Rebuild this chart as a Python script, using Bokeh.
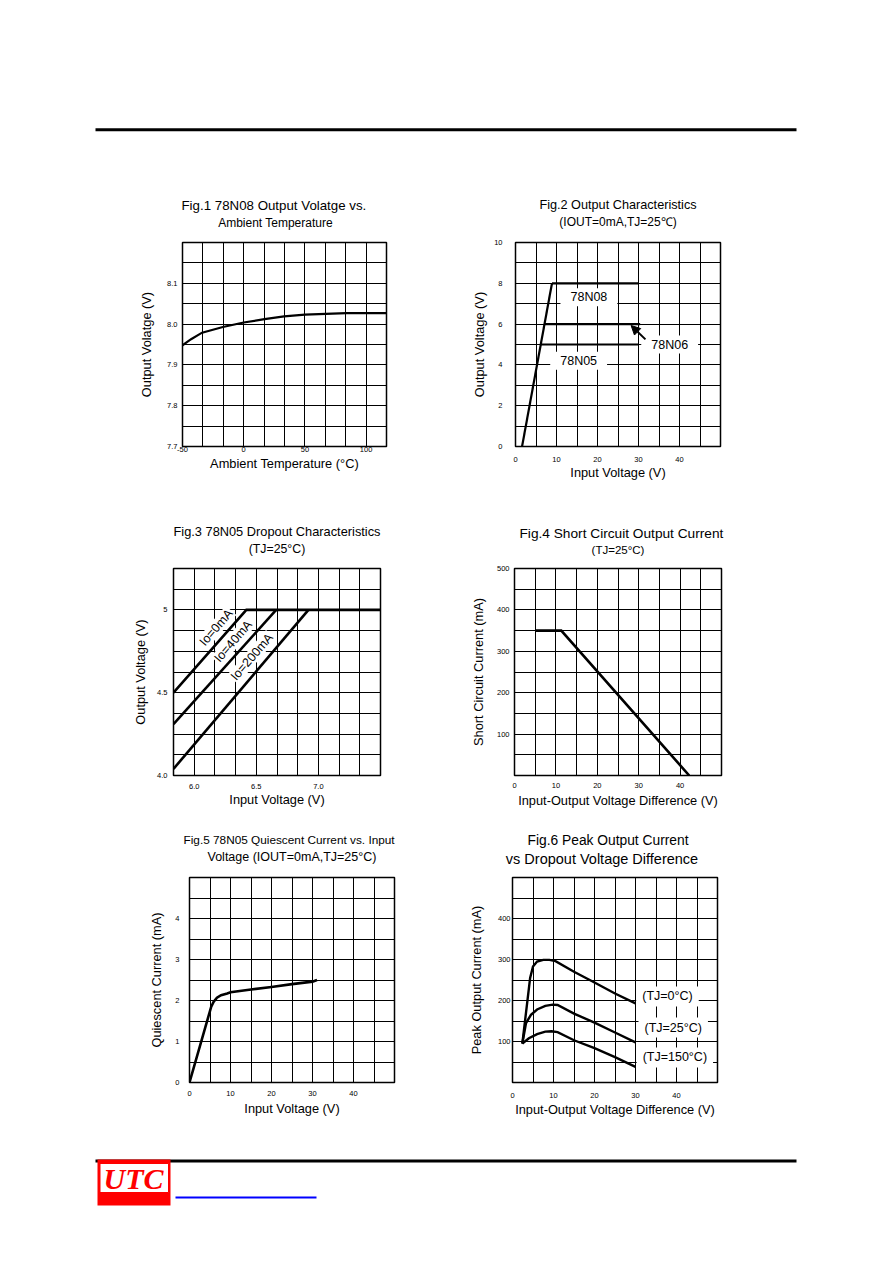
from bokeh.plotting import figure
from bokeh.layouts import column, row
from bokeh.models import Range1d, FixedTicker, Label, Arrow, NormalHead, Title, LinearAxis
from bokeh.embed import file_html
from bokeh.resources import INLINE
from bokeh.core.properties import value

FONT = "Liberation Sans"

# ---------------- data ----------------
# Fig.1 78N08 output voltage vs ambient temperature
fig1_temp = [-50, -43, -34, -17, 0, 17, 33, 50, 67, 84, 117]
fig1_volt = [7.948, 7.963, 7.979, 7.993, 8.004, 8.012, 8.019, 8.023, 8.025, 8.027, 8.027]
fig1_xticks = [-50, 0, 50, 100]
fig1_xlabels = ["-50", "0", "50", "100"]
fig1_yticks = [7.7, 7.8, 7.9, 8.0, 8.1]
fig1_ylabels = ["7.7", "7.8", "7.9", "8.0", "8.1"]

# Fig.2 output characteristics
fig2_ramp_vin = [1.6, 8.9]
fig2_ramp_vout = [0, 8]
fig2_names = ["78N08", "78N06", "78N05"]
fig2_level = [8, 6, 5]
fig2_start = [8.9, 7.1, 6.2]
fig2_end = [30, 30.4, 30]
fig2_label_x = [17.9, 37.6, 15.4]
fig2_label_y = [7.32, 5.0, 4.2]
fig2_arrow_from = (31.7, 5.25)
fig2_arrow_to = (28.2, 5.93)
fig2_xticks = [0, 10, 20, 30, 40]
fig2_xlabels = ["0", "10", "20", "30", "40"]
fig2_yticks = [0, 2, 4, 6, 8, 10]
fig2_ylabels = ["0", "2", "4", "6", "8", "10"]

# Fig.3 78N05 dropout characteristics
fig3_io0_vin = [5.8333, 6.42, 7.5]
fig3_io0_vout = [4.5, 5.0, 5.0]
fig3_io40_vin = [5.8333, 6.66]
fig3_io40_vout = [4.31, 5.0]
fig3_io200_vin = [5.8333, 6.92]
fig3_io200_vout = [4.04, 5.0]
fig3_names = ["Io=0mA", "Io=40mA", "Io=200mA"]
fig3_label_x = [6.177, 6.314, 6.465]
fig3_label_y = [4.893, 4.81, 4.716]
fig3_xticks = [6.0, 6.5, 7.0]
fig3_xlabels = ["6.0", "6.5", "7.0"]
fig3_yticks = [4.0, 4.5, 5.0]
fig3_ylabels = ["4.0", "4.5", "5"]

# Fig.4 short circuit output current
fig4_vdiff = [5, 11.3, 42.2]
fig4_isc = [350, 350, 0]
fig4_xticks = [0, 10, 20, 30, 40]
fig4_xlabels = ["0", "10", "20", "30", "40"]
fig4_yticks = [100, 200, 300, 400, 500]
fig4_ylabels = ["100", "200", "300", "400", "500"]

# Fig.5 78N05 quiescent current vs input voltage
fig5_vin = [0, 5.3, 5.9, 6.7, 7.7, 9.2, 10, 15, 20, 25, 30, 31.1]
fig5_iq = [0, 1.85, 1.97, 2.07, 2.13, 2.17, 2.2, 2.27, 2.33, 2.4, 2.46, 2.5]
fig5_xticks = [0, 10, 20, 30, 40]
fig5_xlabels = ["0", "10", "20", "30", "40"]
fig5_yticks = [0, 1, 2, 3, 4]
fig5_ylabels = ["0", "1", "2", "3", "4"]

# Fig.6 peak output current vs dropout voltage difference
fig6_tj0_v = [2.4, 4.3, 5.0, 6.0, 7.5, 9.0, 10.5, 15, 20, 25, 30]
fig6_tj0_i = [95, 255, 283, 295, 299, 299, 296, 270, 244, 217, 193]
fig6_tj25_v = [2.4, 3.3, 4.5, 6.0, 8.0, 9.8, 11, 15, 20, 25, 30]
fig6_tj25_i = [95, 145, 165, 178, 187, 190, 189, 168, 146, 122, 98]
fig6_tj150_v = [2.4, 4.0, 6.0, 8.0, 9.5, 11, 15, 20, 25, 30]
fig6_tj150_i = [95, 108, 118, 124, 125, 123, 103, 84, 62, 38]
fig6_names = ["(TJ=0°C)", "(TJ=25°C)", "(TJ=150°C)"]
fig6_label_x = [37.8, 39.2, 39.6]
fig6_label_y = [209.8, 134, 61]
fig6_xticks = [0, 10, 20, 30, 40]
fig6_xlabels = ["0", "10", "20", "30", "40"]
fig6_yticks = [100, 200, 300, 400]
fig6_ylabels = ["100", "200", "300", "400"]

AXIS_SIZE = "12.8px"
TICK_SIZE = "7.5px"

BARE = dict(axis_line_color=None, major_tick_line_color=None, minor_tick_line_color=None,
            major_tick_out=0, major_tick_in=0, minor_tick_out=0, minor_tick_in=0)


def make_chart(x_range, y_range, canvas, frame, title1, title2,
               x_label, y_label, x_ticks, x_tick_labels, y_ticks, y_tick_labels,
               x_std, x_lstd, y_std, y_lstd):
    cw, ch = canvas
    left, top, fw, fh = frame
    p = figure(width=cw, height=ch,
               x_range=Range1d(*x_range), y_range=Range1d(*y_range),
               output_backend="svg", toolbar_location=None,
               min_border_left=left, min_border_right=cw - left - fw,
               min_border_top=top, min_border_bottom=ch - top - fh,
               background_fill_color="white", border_fill_color="white",
               outline_line_color="black", outline_line_width=1.5,
               outline_line_alpha=1.0)
    x0, x1 = x_range
    y0, y1 = y_range
    p.xgrid[0].ticker = FixedTicker(ticks=[x0 + (x1 - x0) * k / 10 for k in range(1, 10)])
    p.ygrid[0].ticker = FixedTicker(ticks=[y0 + (y1 - y0) * k / 10 for k in range(1, 10)])
    for g in (p.xgrid[0], p.ygrid[0]):
        g.grid_line_color = "black"
        g.grid_line_width = 1
        g.grid_line_alpha = 1.0
    for ax, ticks, labels, std, lstd, lab in (
            (p.xaxis[0], x_ticks, x_tick_labels, x_std, x_lstd, x_label),
            (p.yaxis[0], y_ticks, y_tick_labels, y_std, y_lstd, y_label)):
        ax.ticker = FixedTicker(ticks=ticks)
        ax.major_label_overrides = {t: s for t, s in zip(ticks, labels)}
        for k, v in BARE.items():
            setattr(ax, k, v)
        ax.major_label_standoff = std
        ax.major_label_text_font = FONT
        ax.major_label_text_font_size = TICK_SIZE
        ax.major_label_text_color = "black"
        ax.axis_label = lab
        ax.axis_label_text_font = FONT
        ax.axis_label_text_font_size = AXIS_SIZE
        ax.axis_label_text_font_style = "normal"
        ax.axis_label_text_color = "black"
        ax.axis_label_standoff = lstd
    # second title line (closest to the frame)
    if title2[0] == "axis":
        _, t2_text, t2_size, t2_std = title2
        top_axis = LinearAxis(ticker=FixedTicker(ticks=[]), axis_label=t2_text,
                              major_label_standoff=0, axis_label_standoff=t2_std,
                              axis_label_text_font=FONT,
                              axis_label_text_font_size=f"{t2_size}px",
                              axis_label_text_font_style="normal",
                              axis_label_text_color="black", **BARE)
    else:
        # shifted line: a single label of a bare top axis, placed off-centre
        _, t2_text, t2_size, t2_shift, t2_std = title2
        c = round((x0 + x1) / 2 + t2_shift * (x1 - x0) / fw, 3)
        top_axis = LinearAxis(ticker=FixedTicker(ticks=[c]),
                              major_label_overrides={c: t2_text},
                              major_label_standoff=t2_std, major_label_text_font=FONT,
                              major_label_text_font_size=f"{t2_size}px",
                              major_label_text_color="black", **BARE)
    p.add_layout(top_axis, "above")
    # first title line
    t1_text, t1_size, t1_align, t1_offset = title1
    p.add_layout(Title(text=t1_text, align=t1_align, offset=t1_offset, standoff=0,
                       text_font=FONT, text_font_size=f"{t1_size}px",
                       text_font_style="normal", text_color="black"), "above")
    return p


def text_box(x, y, text, angle=0.0, pad=(8, 2)):
    return Label(x=x, y=y, text=text, angle=angle, angle_units="rad",
                 text_font=FONT, text_font_size="12.5px", text_color="black",
                 text_align="center", text_baseline="middle",
                 background_fill_color="white", background_fill_alpha=1.0,
                 padding=pad)


LINE = dict(line_color="black", line_cap="butt", line_join="miter")

# ---------------- Fig.1 ----------------
f1 = make_chart((-50, 350 / 3), (7.7, 8.2), (438, 320), (174, 52, 204, 204),
                ("Fig.1  78N08 Output Volatge vs.", 13.3, "left", -1),
                ("tick", "Ambient Temperature", 12, -9, 13),
                "Ambient Temperature (°C)", "Output Volatge (V)",
                fig1_xticks, fig1_xlabels, fig1_yticks, fig1_ylabels,
                0, 1, 5, 10)
f1.line(fig1_temp, fig1_volt, line_width=2.2, **LINE)

# ---------------- Fig.2 ----------------
f2 = make_chart((0, 50), (0, 10), (438, 320), (69, 52, 205, 205),
                ("Fig.2 Output Characteristics", 12.7, "center", 0),
                ("axis", "(IOUT=0mA,TJ=25℃)", 12, 14),
                "Input Voltage (V)", "Output Voltage (V)",
                fig2_xticks, fig2_xlabels, fig2_yticks, fig2_ylabels,
                10, 0, 13, 4)
f2.line(fig2_ramp_vin, fig2_ramp_vout, line_width=2.2, **LINE)
f2.segment(x0=fig2_start, y0=fig2_level, x1=fig2_end, y1=fig2_level, line_width=2.2, **LINE)
for name, lx, ly in zip(fig2_names, fig2_label_x, fig2_label_y):
    f2.add_layout(text_box(lx, ly, name, pad=(10, 2)))
f2.add_layout(Arrow(end=NormalHead(size=9, fill_color="black", line_color="black"),
                    x_start=fig2_arrow_from[0], y_start=fig2_arrow_from[1],
                    x_end=fig2_arrow_to[0], y_end=fig2_arrow_to[1],
                    line_width=2, line_color="black"))

# ---------------- Fig.3 ----------------
f3 = make_chart((5.8333, 7.5), (4.0, 5.25), (438, 320), (165, 58, 207, 207),
                ("Fig.3 78N05 Dropout Characteristics", 12.8, "center", 0),
                ("axis", "(TJ=25°C)", 12.3, 13),
                "Input Voltage (V)", "Output Voltage (V)",
                fig3_xticks, fig3_xlabels, fig3_yticks, fig3_ylabels,
                8, 0, 6, 6)
f3.line(fig3_io0_vin, fig3_io0_vout, line_width=2.6, **LINE)
f3.line(fig3_io40_vin, fig3_io40_vout, line_width=2.6, **LINE)
f3.line(fig3_io200_vin, fig3_io200_vout, line_width=2.6, **LINE)
for name, lx, ly in zip(fig3_names, fig3_label_x, fig3_label_y):
    f3.add_layout(text_box(lx, ly, name, angle=0.86, pad=(1, 0)))

# ---------------- Fig.4 ----------------
f4 = make_chart((0, 50), (0, 500), (438, 320), (68, 57, 207, 208),
                ("Fig.4 Short Circuit Output Current", 13.7, "left", 5),
                ("axis", "(TJ=25°C)", 11.5, 13),
                "Input-Output Voltage Difference (V)", "Short Circuit Current (mA)",
                fig4_xticks, fig4_xlabels, fig4_yticks, fig4_ylabels,
                7, 2, 5, 8)
f4.line(fig4_vdiff, fig4_isc, line_width=2.6, **LINE)

# ---------------- Fig.5 ----------------
f5 = make_chart((0, 50), (0, 5), (438, 300), (181, 47, 205, 205),
                ("Fig.5 78N05 Quiescent Current vs. Input", 11.8, "left", -6),
                ("axis", "Voltage (IOUT=0mA,TJ=25°C)", 12.5, 14),
                "Input Voltage (V)", "Quiescent Current (mA)",
                fig5_xticks, fig5_xlabels, fig5_yticks, fig5_ylabels,
                8, 2, 10, 8)
f5.line(fig5_vin, fig5_iq, line_width=2.6, **LINE)

# ---------------- Fig.6 ----------------
f6 = make_chart((0, 50), (0, 500), (438, 300), (66, 47, 205, 205),
                ("Fig.6  Peak Output Current", 13.8, "left", 15),
                ("tick", "vs Dropout Voltage Difference", 14.5, -13, 11),
                "Input-Output Voltage Difference (V)", "Peak Output Current (mA)",
                fig6_xticks, fig6_xlabels, fig6_yticks, fig6_ylabels,
                10, 1, 2, 11)
f6.line(fig6_tj0_v, fig6_tj0_i, line_width=2.4, **LINE)
f6.line(fig6_tj25_v, fig6_tj25_i, line_width=2.4, **LINE)
f6.line(fig6_tj150_v, fig6_tj150_i, line_width=2.4, **LINE)
for name, lx, ly in zip(fig6_names, fig6_label_x, fig6_label_y):
    f6.add_layout(text_box(lx, ly, name, pad=(6, 3)))


# ---------------- header / footer ----------------
def blank(w, h):
    p = figure(width=w, height=h, x_range=Range1d(0, w), y_range=Range1d(h, 0),
               output_backend="svg", toolbar_location=None, min_border=0,
               x_axis_type=None, y_axis_type=None, outline_line_color=None,
               background_fill_color="white", border_fill_color="white")
    p.grid.visible = False
    return p


header = blank(876, 182)
header.segment(x0=[87], y0=[121.2], x1=[788], y1=[121.2], line_width=3, line_color="black")

footer = blank(876, 120)
footer.segment(x0=[87], y0=[30.5], x1=[788], y1=[30.5], line_width=3, line_color="black")
# logo
footer.quad(left=[89], right=[162], top=[29], bottom=[75], fill_color="#ff0000", line_color=None)
footer.quad(left=[91.5], right=[160], top=[33], bottom=[62], fill_color="white",
            line_color="#ff0000", line_width=1)
footer.text(x=[125], y=[48], text=["UTC"], text_font=value("Liberation Serif"),
            text_font_size="30px", text_font_style="bold italic", text_color="#ff0000",
            text_align="center", text_baseline="middle")
footer.segment(x0=[167], y0=[67], x1=[308], y1=[67], line_width=2, line_color="#0000ff")

layout = column(header, row(f1, f2), row(f3, f4), row(f5, f6), footer, margin=(8, 0, 0, 8))

open("out.html", "w").write(file_html(layout, INLINE))
